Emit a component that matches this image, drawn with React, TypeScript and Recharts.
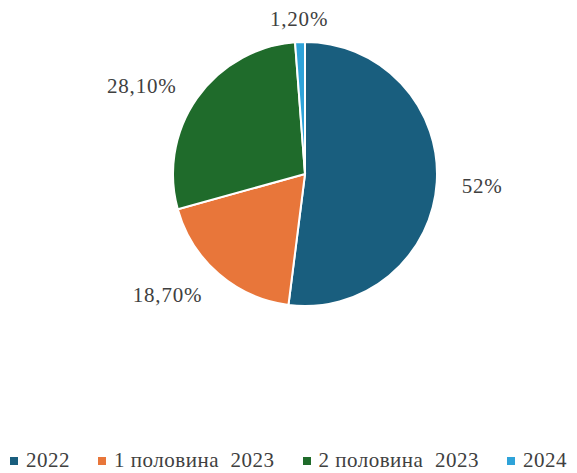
import React from 'react';
import { PieChart, Pie, Cell, Legend } from 'recharts';

const categories = ['2022', '1 половина  2023', '2 половина  2023', '2024'];
const shares = [52, 18.7, 28.1, 1.2];
const shareLabels = ['52%', '18,70%', '28,10%', '1,20%'];
const colors = ['#195e7e', '#e8763a', '#1f6b2b', '#2ea3d9'];

const data = categories.map((name, i) => ({ name, value: shares[i], label: shareLabels[i] }));

const FONT = 'Liberation Serif, DejaVu Serif, Times New Roman, serif';
const RADIAN = Math.PI / 180;

const renderLabel = (props: any) => {
  const { cx, cy, midAngle, outerRadius, index } = props;
  const r = outerRadius + 25;
  const x = cx + r * Math.cos(-midAngle * RADIAN);
  const y = cy + r * Math.sin(-midAngle * RADIAN) + 2;
  const dx = x - cx;
  const anchor = Math.abs(dx) < 30 ? 'middle' : dx > 0 ? 'start' : 'end';
  return (
    <text x={x} y={y} textAnchor={anchor} dominantBaseline="central" fill="#404040" fontSize={21} letterSpacing={0.8} style={{ fontFamily: FONT }}>
      {shareLabels[index]}
    </text>
  );
};

const renderLegend = () => (
  <div style={{ display: 'flex', justifyContent: 'center', fontFamily: FONT, fontSize: 21, letterSpacing: 0.5, color: '#404040', whiteSpace: 'pre' }}>
    {categories.map((c, i) => (
      <span key={c} style={{ display: 'inline-flex', alignItems: 'center', marginRight: i < categories.length - 1 ? 28 : 0 }}>
        <span style={{ display: 'inline-block', width: 8, height: 8, background: colors[i], marginRight: 8 }} />
        {c}
      </span>
    ))}
  </div>
);

export default function App() {
  return (
    <div style={{ position: 'absolute', left: 0, top: 0, width: 577, height: 473, background: '#fff' }}>
      <PieChart width={577} height={473} margin={{ top: 0, right: 0, bottom: 0, left: 0 }}>
        <Pie
          data={data}
          dataKey="value"
          nameKey="name"
          cx={305}
          cy={174}
          outerRadius={132}
          startAngle={90}
          endAngle={-270}
          stroke="#ffffff"
          strokeWidth={2}
          label={renderLabel}
          labelLine={false}
          isAnimationActive={false}
        >
          {data.map((d, i) => (
            <Cell key={d.name} fill={colors[i]} />
          ))}
        </Pie>
        <Legend content={renderLegend} verticalAlign="bottom" wrapperStyle={{ bottom: 0 }} />
      </PieChart>
    </div>
  );
}
